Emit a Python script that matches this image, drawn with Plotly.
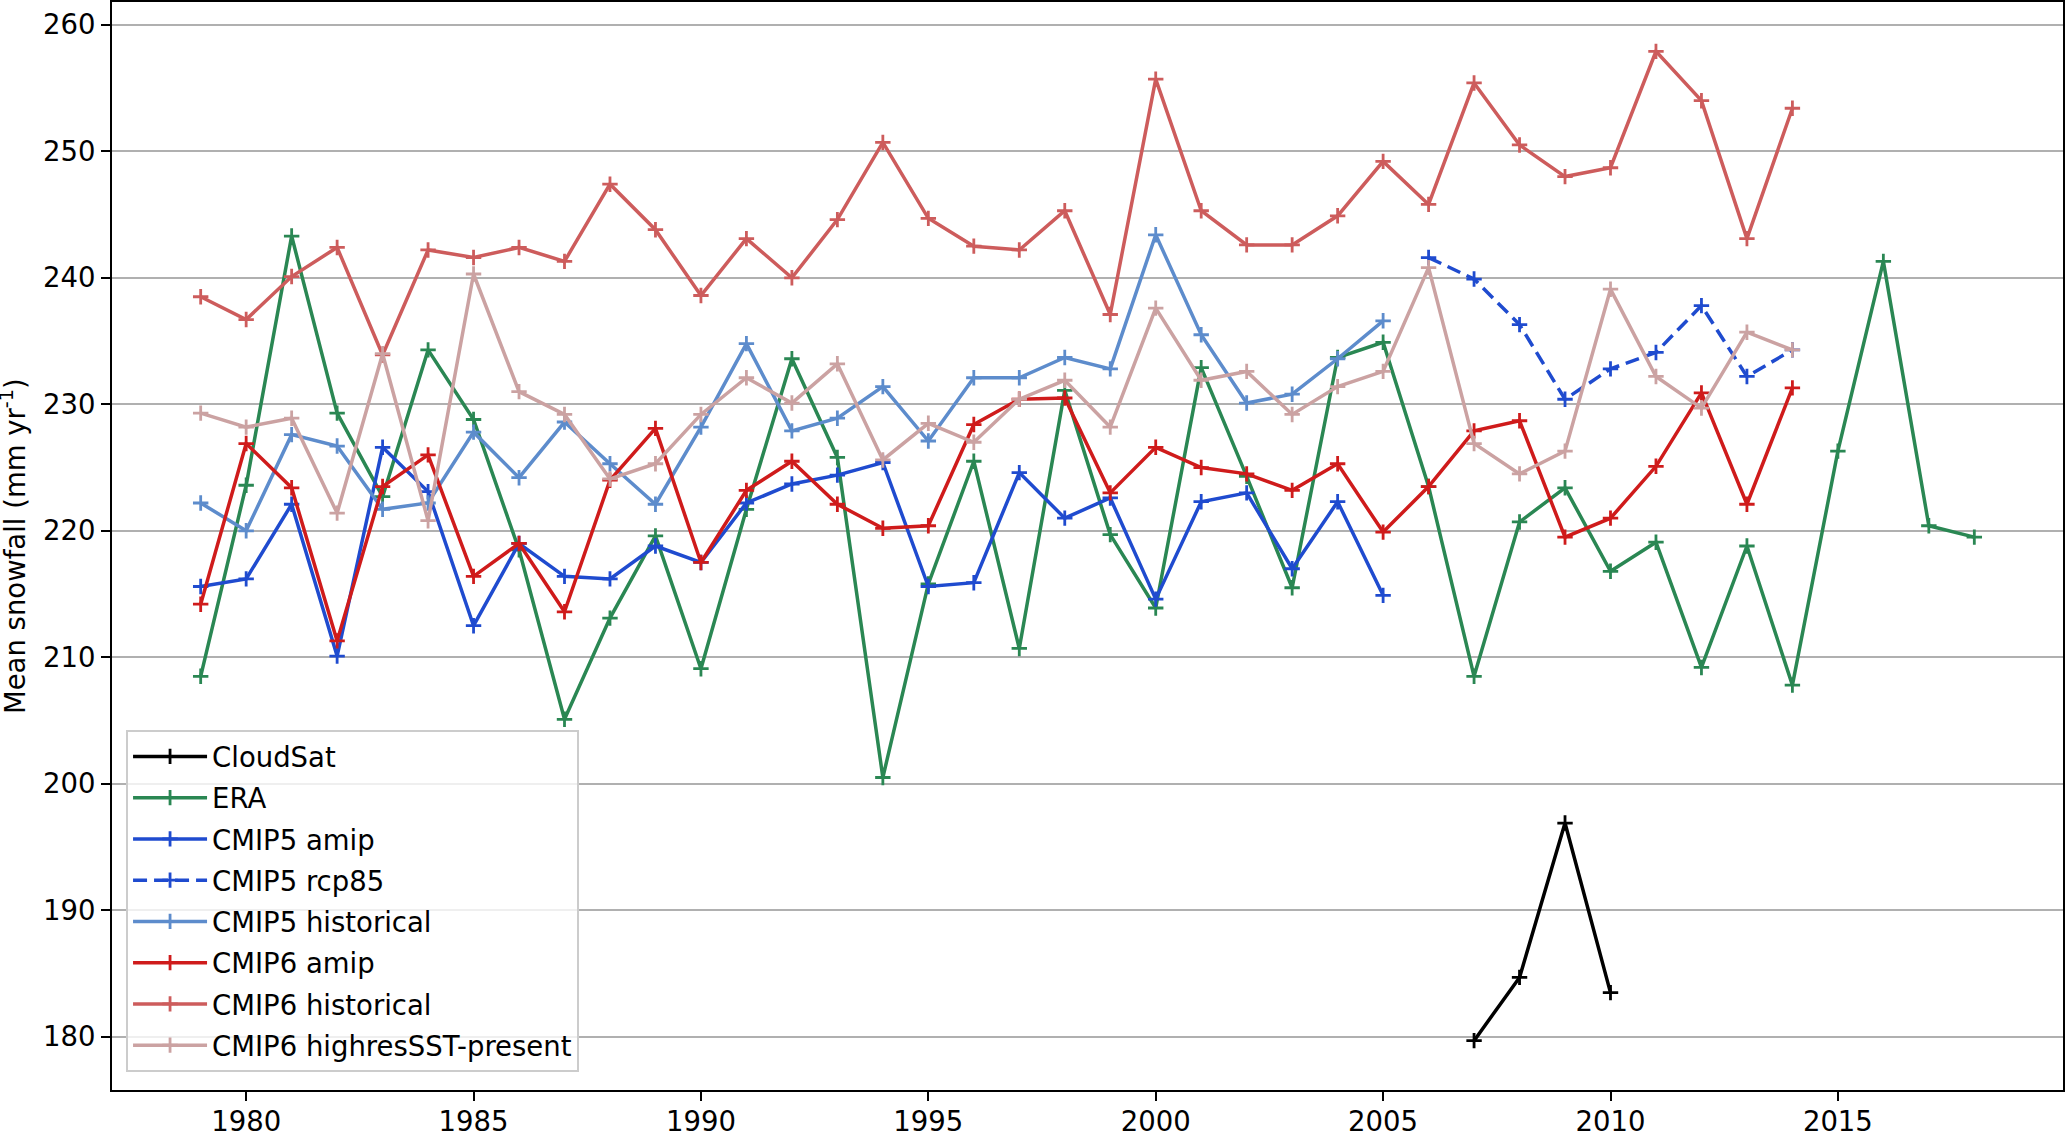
import plotly.graph_objects as go

# ---------------- data ----------------
years_era = list(range(1979, 2019))
era = [208.5, 223.6, 243.3, 229.3, 222.7, 234.3, 228.8, 218.5, 205.1, 213.1,
       219.6, 209.1, 221.7, 233.6, 225.8, 200.5, 215.8, 225.5, 210.7, 231.1,
       219.7, 213.9, 232.9, 224.3, 215.5, 233.7, 234.9, 223.5, 208.5, 220.7,
       223.4, 216.8, 219.1, 209.2, 218.8, 207.8, 226.3, 241.3, 220.4, 219.5]

years_cloudsat = [2007, 2008, 2009, 2010]
cloudsat = [179.7, 184.7, 196.9, 183.5]

years_cmip5 = list(range(1979, 2006))
cmip5_amip = [215.6, 216.2, 222.1, 210.1, 226.6, 223.1, 212.5, 219.0, 216.4, 216.2,
              218.8, 217.5, 222.2, 223.7, 224.4, 225.4, 215.6, 215.9, 224.6, 221.0,
              222.6, 214.6, 222.3, 223.0, 217.0, 222.3, 214.9]
cmip5_hist = [222.2, 220.0, 227.6, 226.7, 221.7, 222.2, 227.8, 224.2, 228.6, 225.3,
              222.1, 228.2, 234.8, 227.9, 228.9, 231.4, 227.1, 232.1, 232.1, 233.7,
              232.8, 243.4, 235.5, 230.1, 230.8, 233.6, 236.6]

years_rcp = list(range(2006, 2015))
cmip5_rcp85 = [241.6, 239.9, 236.3, 230.4, 232.8, 234.1, 237.8, 232.2, 234.3]

years_cmip6 = list(range(1979, 2015))
cmip6_amip = [214.2, 226.9, 223.4, 211.3, 223.5, 226.0, 216.4, 219.0, 213.6, 224.0,
              228.1, 217.5, 223.2, 225.5, 222.1, 220.2, 220.4, 228.4, 230.4, 230.5,
              223.0, 226.6, 225.0, 224.5, 223.2, 225.3, 219.9, 223.5, 227.9, 228.7,
              219.5, 221.0, 225.1, 230.9, 222.1, 231.3]
cmip6_hist = [238.5, 236.7, 240.1, 242.4, 233.9, 242.2, 241.6, 242.4, 241.3, 247.4,
              243.8, 238.6, 243.1, 240.0, 244.6, 250.7, 244.7, 242.5, 242.2, 245.3,
              237.1, 255.7, 245.3, 242.6, 242.6, 244.9, 249.2, 245.8, 255.4, 250.5,
              248.0, 248.7, 257.9, 254.0, 243.1, 253.4]
cmip6_highres = [229.3, 228.2, 228.9, 221.4, 234.0, 220.8, 240.3, 231.0, 229.2, 224.1,
                 225.3, 229.2, 232.1, 230.1, 233.2, 225.6, 228.5, 227.0, 230.4, 231.9,
                 228.2, 237.6, 231.9, 232.6, 229.2, 231.4, 232.6, 240.8, 226.9, 224.5,
                 226.3, 239.1, 232.2, 229.7, 235.7, 234.3]

x_ticks = [1980, 1985, 1990, 1995, 2000, 2005, 2010, 2015]
y_ticks = [180, 190, 200, 210, 220, 230, 240, 250, 260]

# ---------------- figure ----------------
FONT = "DejaVu Sans"
FS = 27.5
series = [
    ("CloudSat", years_cloudsat, cloudsat, "#000000", "solid"),
    ("ERA", years_era, era, "#2a8753", "solid"),
    ("CMIP5 amip", years_cmip5, cmip5_amip, "#1f4bcf", "solid"),
    ("CMIP5 rcp85", years_rcp, cmip5_rcp85, "#1f4bcf", "14px,7px"),
    ("CMIP5 historical", years_cmip5, cmip5_hist, "#5d8ccc", "solid"),
    ("CMIP6 amip", years_cmip6, cmip6_amip, "#cf1b1b", "solid"),
    ("CMIP6 historical", years_cmip6, cmip6_hist, "#cd5c5c", "solid"),
    ("CMIP6 highresSST-present", years_cmip6, cmip6_highres, "#cba2a2", "solid"),
]

fig = go.Figure()
for i, (name, xs, ys, col, dash) in enumerate(series):
    fig.add_trace(go.Scatter(
        x=xs, y=ys, name=name, mode="lines+markers",
        legendgroup=f"g{i}",
        line=dict(color=col, width=3.5, dash=dash),
        marker=dict(symbol="cross-thin", size=11, color=col,
                    line=dict(color=col, width=2.8)),
    ))

fig.update_layout(
    width=2066, height=1131,
    margin=dict(l=112, r=3, t=2, b=41),
    paper_bgcolor="white", plot_bgcolor="white",
    font=dict(family=FONT, size=FS, color="black"),
    showlegend=True,
    legend=dict(
        x=0.0072, y=0.0165, xanchor="left", yanchor="bottom",
        bgcolor="rgba(255,255,255,0.8)", bordercolor="#cccccc", borderwidth=2,
        font=dict(family=FONT, size=FS, color="black"),
        tracegroupgap=2.5, itemwidth=74,
    ),
    xaxis=dict(
        range=[1977.05, 2019.95], tickvals=x_ticks, ticktext=[str(v) for v in x_ticks],
        showgrid=False, zeroline=False, automargin=False,
        showline=True, linecolor="black", linewidth=2, mirror=True,
        ticks="outside", ticklen=9, tickwidth=2, tickcolor="black",
        ticklabelstandoff=-3,
        tickfont=dict(family=FONT, size=FS, color="black"),
    ),
    yaxis=dict(
        range=[175.8, 261.8], tickvals=y_ticks, ticktext=[str(v) for v in y_ticks],
        showgrid=True, gridcolor="#b0b0b0", gridwidth=2, zeroline=False, automargin=False,
        showline=True, linecolor="black", linewidth=2, mirror=True,
        ticks="outside", ticklen=9, tickwidth=2, tickcolor="black",
        tickfont=dict(family=FONT, size=FS, color="black"),
    ),
    annotations=[dict(
        text="Mean snowfall (mm yr<sup>-1</sup>)", textangle=-90,
        xref="paper", yref="paper", x=-0.0507, y=0.5,
        xanchor="center", yanchor="middle", showarrow=False,
        font=dict(family=FONT, size=FS, color="black"),
    )],
)

fig.write_html(
    "out.html",
    config={"displayModeBar": False},
    post_script="document.body.style.margin='0';document.body.style.overflow='hidden';",
)
